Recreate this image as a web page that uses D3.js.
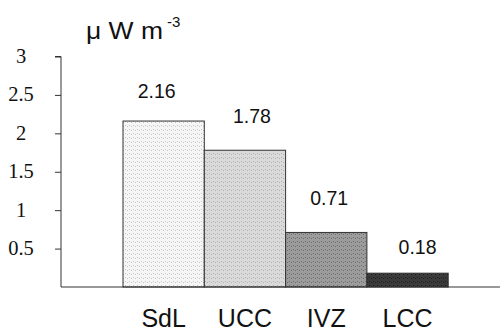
<!DOCTYPE html>
<html>
<head>
<meta charset="utf-8">
<script src="https://cdn.jsdelivr.net/npm/d3@7"></script>
<style>
  body { margin: 0; background: #fff; }
  svg { display: block; }
</style>
</head>
<body>
<svg id="chart" width="500" height="333"></svg>
<script>
const categories = ['SdL', 'UCC', 'IVZ', 'LCC'];
const values = [2.16, 1.78, 0.71, 0.18];
const valueLabels = ['2.16', '1.78', '0.71', '0.18'];
const yTicks = [0.5, 1, 1.5, 2, 2.5, 3];
const yTickLabels = ['0.5', '1', '1.5', '2', '2.5', '3'];

const fills = [
  { base: '#f6f6f6', dot: '#c4c4c4' },
  { base: '#dadada', dot: '#b0b0b0' },
  { base: '#9c9c9c', dot: '#6c6c6c' },
  { base: '#3a3a3a', dot: '#1e1e1e' }
];

// label placement quirks of the original figure
const labelDx = [-7, 7, 3, 10];
const labelGap = [23, 27, 27, 19];

const svg = d3.select('#chart');
const axisX = 61;
const barsLeft = 123;
const barW = 81.3;
const sans = 'Liberation Sans, Arial, sans-serif';

const y = d3.scaleLinear().domain([0, 3]).range([287, 56.5]);
const x = d3.scaleBand().domain(categories)
  .range([barsLeft, barsLeft + barW * categories.length])
  .paddingInner(0).paddingOuter(0);

// textured fills
const defs = svg.append('defs');
fills.forEach((f, i) => {
  const p = defs.append('pattern')
    .attr('id', 'pat' + i)
    .attr('width', 4).attr('height', 4)
    .attr('patternUnits', 'userSpaceOnUse');
  p.append('rect').attr('width', 4).attr('height', 4).attr('fill', f.base);
  p.append('rect').attr('x', 1).attr('y', 1).attr('width', 1).attr('height', 1).attr('fill', f.dot);
  p.append('rect').attr('x', 3).attr('y', 2).attr('width', 1).attr('height', 1).attr('fill', f.dot);
});

// bars
svg.selectAll('rect.bar')
  .data(values)
  .enter()
  .append('rect')
  .attr('class', 'bar')
  .attr('x', (d, i) => x(categories[i]))
  .attr('y', d => y(d))
  .attr('width', x.bandwidth())
  .attr('height', d => y(0) - y(d))
  .attr('fill', (d, i) => 'url(#pat' + i + ')')
  .attr('stroke', '#333')
  .attr('stroke-width', 1);

// value labels
svg.selectAll('text.val')
  .data(values)
  .enter()
  .append('text')
  .attr('class', 'val')
  .attr('x', (d, i) => x(categories[i]) + x.bandwidth() / 2 + labelDx[i])
  .attr('y', (d, i) => y(d) - labelGap[i])
  .attr('text-anchor', 'middle')
  .attr('font-family', sans)
  .attr('font-size', 19.5)
  .attr('fill', '#111')
  .text((d, i) => valueLabels[i]);

// category labels
svg.selectAll('text.cat')
  .data(categories)
  .enter()
  .append('text')
  .attr('class', 'cat')
  .attr('x', d => x(d) + x.bandwidth() / 2)
  .attr('y', 327)
  .attr('text-anchor', 'middle')
  .attr('font-family', sans)
  .attr('font-size', 25)
  .attr('fill', '#111')
  .text(d => d);

// y axis
const yAxis = d3.axisLeft(y)
  .tickValues(yTicks)
  .tickSize(6)
  .tickFormat(() => '');
const gy = svg.append('g')
  .attr('transform', `translate(${axisX},0)`)
  .call(yAxis);
gy.select('.domain').attr('d', `M-6,${y(3)}H0V${y(0)}`).attr('stroke', '#333');
gy.selectAll('.tick line').attr('stroke', '#333');

svg.selectAll('text.ytick')
  .data(yTicks)
  .enter()
  .append('text')
  .attr('class', 'ytick')
  .attr('x', 21)
  .attr('y', d => y(d) + 6.5)
  .attr('text-anchor', 'middle')
  .attr('font-family', 'Liberation Serif, Times New Roman, serif')
  .attr('font-size', 20.5)
  .attr('fill', '#111')
  .text((d, i) => yTickLabels[i]);

// baseline
svg.append('line')
  .attr('x1', axisX).attr('x2', 500)
  .attr('y1', y(0)).attr('y2', y(0))
  .attr('stroke', '#333').attr('stroke-width', 1.2);

// units
svg.append('text')
  .attr('x', 86).attr('y', 39)
  .attr('font-family', sans)
  .attr('font-size', 23)
  .attr('fill', '#111')
  .attr('textLength', 77)
  .attr('lengthAdjust', 'spacingAndGlyphs')
  .text('\u03BC W m');
svg.append('text')
  .attr('x', 167).attr('y', 27)
  .attr('font-family', sans)
  .attr('font-size', 15)
  .attr('fill', '#111')
  .text('-3');
</script>
</body>
</html>
